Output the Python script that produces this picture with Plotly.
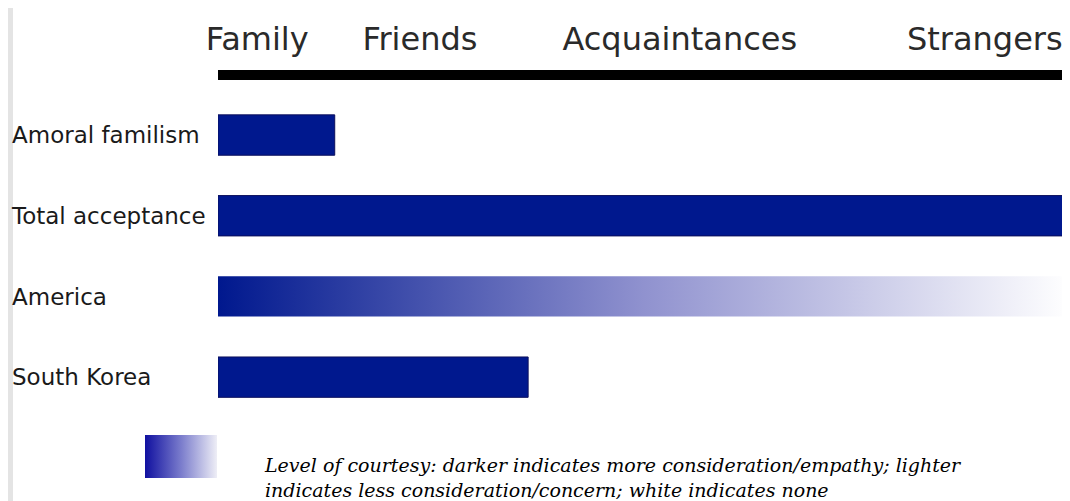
import plotly.graph_objects as go

# ---- data ----
categories = ["Amoral familism", "Total acceptance", "America", "South Korea"]
reach = [13.7, 100, 100, 36.4]          # how far courtesy extends (0-100 scale)
gradient_rows = ["America"]             # rows whose courtesy fades with distance
header_labels = ["Family", "Friends", "Acquaintances", "Strangers"]
header_pos = [4.6, 23.7, 54.2, 90.0]
legend_span = [0, 1]
legend_text = ("Level of courtesy: darker indicates more consideration/empathy; lighter<br>"
               "indicates less consideration/concern; white indicates none")

DARK = "#00188e"
OFF = 8   # page body margin: the figure is drawn 8px in from the top-left of the window
W, H = 1070 - OFF, 501 - OFF
ML, MR, MT, MB = 0, 0, 80 - OFF, 0
PW, PH = W - ML - MR, H - MT - MB

def px_x(p):          # screen pixel -> paper x
    return (p - OFF - ML) / PW

def px_y(p):          # screen pixel -> paper y
    return (H - MB - (p - OFF)) / PH

BAR_W = 0.5
fig = go.Figure()

idx = list(range(len(categories)))
solid_y = [i for i, c in zip(idx, categories) if c not in gradient_rows]
solid_x = [r for r, c in zip(reach, categories) if c not in gradient_rows]
fig.add_trace(go.Bar(
    x=solid_x, y=solid_y, orientation="h", width=BAR_W,
    marker=dict(color=DARK, line=dict(color="#0b0f5c", width=1)),
    hoverinfo="skip", showlegend=False,
))

for i, c, r in zip(idx, categories, reach):
    if c in gradient_rows:
        y0, y1 = i - BAR_W / 2, i + BAR_W / 2
        fig.add_trace(go.Scatter(
            x=[0, r, r, 0, 0], y=[y0, y0, y1, y1, y0],
            mode="lines", line=dict(width=0), fill="toself",
            fillgradient=dict(type="horizontal", start=0, stop=r,
                              colorscale=[[0, DARK], [0.5, "#9092cf"], [1, "#ffffff"]]),
            hoverinfo="skip", showlegend=False,
        ))

# legend swatch
s0, s1 = legend_span
fig.add_trace(go.Scatter(
    x=[s0, s1, s1, s0, s0], y=[s0, s0, s1, s1, s0], xaxis="x2", yaxis="y2",
    mode="lines", line=dict(width=0), fill="toself",
    fillgradient=dict(type="horizontal", start=s0, stop=s1,
                      colorscale=[[0, "#1010a0"], [0.5, "#7a7ccc"], [1, "#eeeef6"]]),
    hoverinfo="skip", showlegend=False,
))

fig.update_layout(
    width=W, height=H,
    margin=dict(l=ML, r=MR, t=MT, b=MB, autoexpand=False),
    paper_bgcolor="white", plot_bgcolor="white",
    xaxis=dict(
        domain=[px_x(218), 1], range=[0, 100], side="top", anchor="y",
        tickmode="array", tickvals=header_pos, ticktext=header_labels,
        tickfont=dict(family="DejaVu Sans", size=32, color="#2a2a2a"),
        ticks="", ticklabelstandoff=7,
        showline=True, linecolor="black", linewidth=10,
        showgrid=False, zeroline=False, fixedrange=True, automargin=False,
    ),
    yaxis=dict(
        domain=[px_y(417.5), 1], range=[3.5, -0.682], anchor="free", position=0,
        tickmode="array", tickvals=idx, ticktext=categories,
        ticklabelposition="inside",
        tickfont=dict(family="DejaVu Sans", size=23, color="#1a1a1a"),
        showline=False, showgrid=False, zeroline=False, ticks="", fixedrange=True,
        automargin=False,
    ),
    xaxis2=dict(domain=[px_x(145), px_x(217)], range=[0, 1], anchor="y2", visible=False),
    yaxis2=dict(domain=[px_y(478), px_y(435)], range=[0, 1], anchor="x2", visible=False),
    annotations=[dict(
        text=legend_text, xref="paper", yref="paper",
        x=px_x(262), y=px_y(477), xanchor="left", yanchor="middle",
        align="left", showarrow=False,
        font=dict(family="DejaVu Serif", size=19, style="italic", color="black"),
    )],
    shapes=[
        dict(type="rect", xref="paper", yref="paper", x0=0, x1=px_x(13),
             y0=0, y1=px_y(OFF), fillcolor="#e4e4e4", line=dict(width=0), layer="below"),
    ],
)

fig.write_html("out.html")
